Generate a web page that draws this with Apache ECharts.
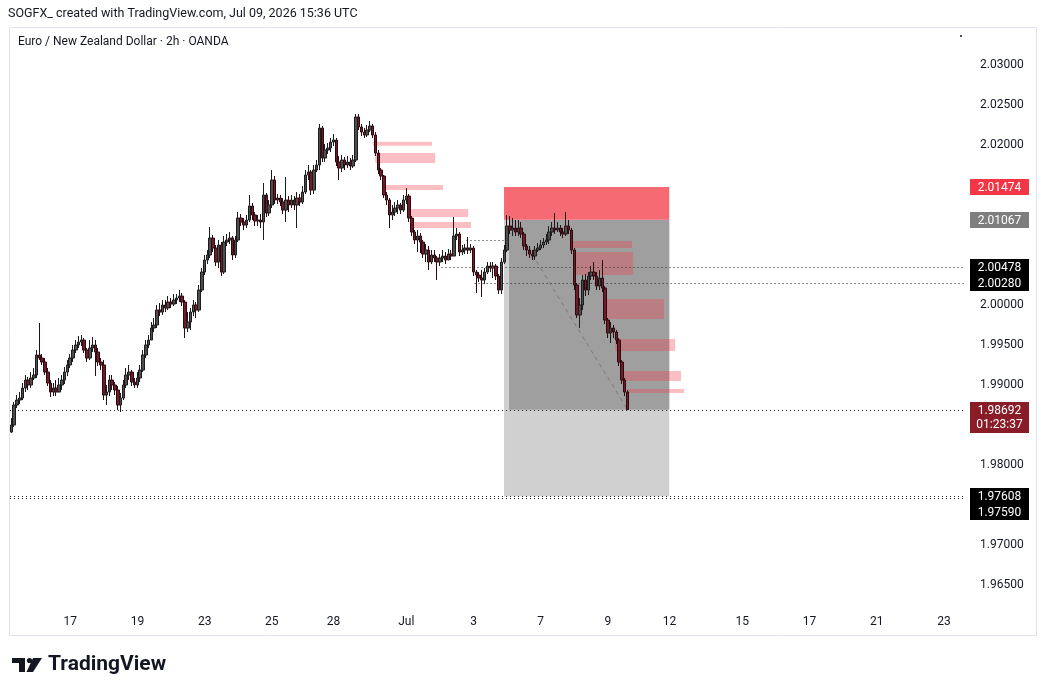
<!DOCTYPE html>
<html>
<head>
<meta charset="utf-8">
<title>EURNZD 2h</title>
<script src="https://cdn.jsdelivr.net/npm/echarts@6/dist/echarts.min.js"></script>
<style>
  html, body { margin: 0; padding: 0; background: #ffffff; }
  #chart { width: 1047px; height: 696px; }
</style>
</head>
<body>
<div id="chart"></div>
<script>
// ---- data ----
var firstOpen = 1.98412;

var closes = [
  1.98500,1.98750,1.98812,1.98837,1.98962,1.99062,1.99000,1.99087,1.99125,1.99375,
  1.99337,1.99287,1.99162,1.99025,1.98912,1.98962,1.98912,1.99000,1.99062,1.99162,
  1.99250,1.99337,1.99437,1.99500,1.99537,1.99562,1.99437,1.99337,1.99462,1.99500,
  1.99412,1.99287,1.99250,1.98875,1.98912,1.99062,1.99000,1.98937,1.98750,1.98837,
  1.99000,1.99125,1.99162,1.99037,1.99000,1.99087,1.99187,1.99375,1.99500,1.99562,
  1.99712,1.99750,1.99937,1.99912,2.00000,1.99962,2.00037,2.00012,2.00062,2.00087,
  2.00112,2.00037,1.99712,1.99787,1.99912,2.00000,1.99937,2.00187,2.00412,2.00562,
  2.00625,2.00837,2.00712,2.00537,2.00750,2.00412,2.00787,2.00812,2.00837,2.00625,
  2.00812,2.01087,2.01037,2.01000,2.01062,2.01237,2.01125,2.01050,2.01062,2.01037,
  2.01375,2.01150,2.01250,2.01562,2.01312,2.01337,2.01287,2.01187,2.01312,2.01250,
  2.01312,2.01250,2.01337,2.01287,2.01412,2.01625,2.01662,2.01437,2.01687,2.01750,
  2.02212,2.01837,2.01937,2.01962,2.02037,2.02062,2.01787,2.01712,2.01812,2.01750,
  2.01787,2.01737,2.01812,2.02350,2.02225,2.02162,2.02125,2.02187,2.02237,2.02125,
  2.01900,2.01687,2.01612,2.01375,2.01312,2.01125,2.01162,2.01212,2.01250,2.01187,
  2.01312,2.01362,2.01087,2.00912,2.00812,2.00862,2.00787,2.00637,2.00687,2.00537,
  2.00625,2.00587,2.00537,2.00587,2.00612,2.00562,2.00637,2.00612,2.00862,2.00887,
  2.00662,2.00687,2.00712,2.00687,2.00712,2.00412,2.00375,2.00337,2.00312,2.00412,
  2.00487,2.00462,2.00487,2.00362,2.00187,2.00537,2.00687,2.00987,2.00937,2.00962,
  2.00912,2.00962,2.00887,2.00737,2.00687,2.00637,2.00612,2.00687,2.00712,2.00750,
  2.00787,2.00812,2.00912,2.00962,2.00937,2.00962,2.00912,2.00887,2.00987,2.00937,
  2.00687,2.00250,1.99875,2.00000,2.00312,2.00187,2.00362,2.00412,2.00362,2.00237,
  2.00337,2.00212,1.99812,1.99650,1.99712,1.99662,1.99562,1.99287,1.99062,1.98912,1.98692
];

var highs = [
  1.98587,1.98787,1.98875,1.98912,1.99025,1.99125,1.99100,1.99162,1.99212,1.99437,
  1.99775,1.99387,1.99337,1.99212,1.99062,1.99025,1.99062,1.99087,1.99125,1.99225,
  1.99312,1.99387,1.99500,1.99562,1.99612,1.99625,1.99587,1.99462,1.99562,1.99600,
  1.99562,1.99462,1.99337,1.99312,1.99000,1.99125,1.99125,1.99037,1.98987,1.98900,
  1.99062,1.99212,1.99250,1.99187,1.99087,1.99162,1.99250,1.99437,1.99562,1.99625,
  1.99787,1.99837,2.00000,2.00025,2.00062,2.00062,2.00112,2.00087,2.00137,2.00137,
  2.00187,2.00150,2.00062,1.99912,1.99962,2.00062,2.00037,2.00250,2.00462,2.00625,
  2.00687,2.00975,2.00875,2.00750,2.00812,2.00787,2.00862,2.00887,2.00912,2.00862,
  2.00862,2.01162,2.01137,2.01087,2.01125,2.01375,2.01275,2.01162,2.01125,2.01137,
  2.01525,2.01400,2.01312,2.01687,2.01612,2.01387,2.01375,2.01337,2.01600,2.01362,
  2.01375,2.01362,2.01412,2.01387,2.01487,2.01687,2.01750,2.01687,2.01750,2.01812,
  2.02262,2.02237,2.02012,2.02025,2.02087,2.02137,2.02087,2.01862,2.01875,2.01850,
  2.01862,2.01837,2.01875,2.02387,2.02387,2.02262,2.02212,2.02250,2.02300,2.02262,
  2.02162,2.01937,2.01712,2.01625,2.01412,2.01337,2.01250,2.01287,2.01312,2.01275,
  2.01375,2.01462,2.01387,2.01112,2.00937,2.00937,2.00900,2.00812,2.00762,2.00737,
  2.00687,2.00687,2.00612,2.00637,2.00687,2.00662,2.00700,2.00687,2.01100,2.00962,
  2.00912,2.00750,2.00762,2.00850,2.00762,2.00737,2.00437,2.00412,2.00437,2.00462,
  2.00537,2.00537,2.00537,2.00512,2.00387,2.00587,2.00750,2.01125,2.01112,2.01087,
  2.01062,2.01062,2.01037,2.00912,2.00762,2.00737,2.00687,2.00737,2.00775,2.00812,
  2.00837,2.00887,2.00987,2.01037,2.01150,2.01037,2.01000,2.00962,2.01162,2.01062,
  2.00962,2.00712,2.00275,2.00087,2.00375,2.00387,2.00412,2.00487,2.00537,2.00412,
  2.00437,2.00562,2.00237,1.99837,1.99787,1.99750,1.99687,1.99587,1.99312,1.99087,1.98937
];

var lows = [
  1.98400,1.98475,1.98712,1.98762,1.98812,1.98912,1.98937,1.98962,1.99062,1.99087,
  1.99312,1.99250,1.99125,1.98987,1.98850,1.98862,1.98862,1.98912,1.98937,1.99012,
  1.99112,1.99212,1.99287,1.99400,1.99462,1.99487,1.99400,1.99287,1.99312,1.99412,
  1.99112,1.99237,1.99187,1.98812,1.98750,1.98862,1.98937,1.98875,1.98687,1.98662,
  1.98812,1.98962,1.99062,1.98987,1.98962,1.98962,1.99037,1.99162,1.99337,1.99462,
  1.99587,1.99662,1.99712,1.99862,1.99875,1.99912,1.99937,1.99962,1.99987,2.00012,
  2.00037,1.99987,1.99587,1.99662,1.99687,1.99862,1.99837,1.99912,2.00162,2.00375,
  2.00512,2.00587,2.00662,2.00487,2.00462,2.00362,2.00387,2.00737,2.00762,2.00562,
  2.00587,2.00787,2.00987,2.00937,2.00962,2.01037,2.01062,2.00987,2.00987,2.00962,
  2.00812,2.01100,2.01112,2.01212,2.01262,2.01262,2.01237,2.01137,2.01037,2.01162,
  2.01212,2.01187,2.00962,2.01237,2.01262,2.01387,2.01562,2.01375,2.01387,2.01662,
  2.01687,2.01787,2.01787,2.01887,2.01912,2.01987,2.01737,2.01562,2.01662,2.01687,
  2.01712,2.01687,2.01712,2.01787,2.02187,2.02112,2.02087,2.02100,2.02162,2.02087,
  2.01862,2.01637,2.01562,2.01337,2.01250,2.00962,2.01062,2.01112,2.01137,2.01137,
  2.01162,2.01262,2.01037,2.00862,2.00762,2.00662,2.00650,2.00587,2.00537,2.00437,
  2.00512,2.00537,2.00312,2.00487,2.00537,2.00512,2.00562,2.00562,2.00612,2.00812,
  2.00612,2.00625,2.00637,2.00637,2.00650,2.00362,2.00150,2.00287,2.00100,2.00262,
  2.00387,2.00412,2.00337,2.00312,2.00137,2.00137,2.00512,2.00662,2.00887,2.00862,
  2.00862,2.00862,2.00837,2.00687,2.00612,2.00587,2.00562,2.00562,2.00662,2.00687,
  2.00712,2.00750,2.00762,2.00862,2.00887,2.00912,2.00862,2.00837,2.00862,2.00887,
  2.00637,2.00187,1.99837,1.99712,1.99937,2.00112,2.00125,2.00312,2.00312,2.00187,
  2.00187,2.00162,1.99762,1.99587,1.99525,1.99587,1.99512,1.99237,1.99012,1.98862,1.98687
];

// time axis: candle slot of each date label
var dateLabels = ['17', '19', '23', '25', '28', 'Jul', '3', '7', '9', '12', '15', '17', '21', '23'];
var dateSlots  = [21, 45, 69, 93, 115, 141, 165, 189, 213, 235, 261, 285, 309, 333];

var priceTicks = [1.965, 1.970, 1.975, 1.980, 1.985, 1.990, 1.995, 2.000, 2.005, 2.010, 2.015, 2.020, 2.025, 2.030];

// short position tool
var posStart = 175.9, posProfitStart = 177.7, posEnd = 234.9;
var stopPrice = 2.01474, entryPrice = 2.01067, targetPrice = 1.97608, lastPrice = 1.98692;
var countdown = '01:23:37';

// supply zones (slot from, slot to, top, bottom)
var zoneFrom   = [129.1, 129.9, 133.4, 141.6, 142.4, 200.2, 200.6, 212.0, 215.6, 218.0, 220.2];
var zoneTo     = [150.2, 151.3, 154.1, 163.1, 164.1, 221.6, 222.0, 233.0, 237.0, 239.1, 240.2];
var zoneTop    = [2.02040, 2.01900, 2.01500, 2.01200, 2.01037, 2.00800, 2.00662, 2.00075, 1.99575, 1.99175, 1.98950];
var zoneBottom = [2.01990, 2.01775, 2.01437, 2.01100, 2.00962, 2.00712, 2.00375, 1.99825, 1.99425, 1.99050, 1.98900];

// dotted levels
var levelPrice = [2.00812, 2.00478, 2.00280, 1.98692, 1.97608, 1.97590];
var levelFrom  = [162.5, 153.6, 165.4, -0.5, -0.5, -0.5];
var levelTo    = [175.7, 340.5, 340.5, 340.5, 340.5, 340.5];

// dashed path line inside the position
var pathSlots  = [186.0, 220.0];
var pathPrices = [2.00630, 1.98692];

var X_MIN = -0.5, X_MAX = 340.5;

// ---- build series data ----
var candles = [];
for (var i = 0; i < closes.length; i++) {
  var o = i === 0 ? firstOpen : closes[i - 1];
  var c = closes[i];
  var h = Math.max(highs[i], o, c);
  var l = Math.min(lows[i], o, c);
  candles.push([i, o, c, l, h]);
}

var zones = [];
for (var k = 0; k < zoneFrom.length; k++) {
  zones.push([zoneFrom[k], zoneTo[k], zoneTop[k], zoneBottom[k]]);
}
var levels = [];
for (var m = 0; m < levelPrice.length; m++) {
  levels.push([levelFrom[m], levelTo[m], levelPrice[m]]);
}

function rectRenderer(fill) {
  return function (params, api) {
    var p0 = api.coord([api.value(0), api.value(2)]);
    var p1 = api.coord([api.value(1), api.value(3)]);
    return {
      type: 'rect',
      shape: {
        x: Math.min(p0[0], p1[0]), y: Math.min(p0[1], p1[1]),
        width: Math.abs(p1[0] - p0[0]), height: Math.abs(p1[1] - p0[1])
      },
      style: { fill: fill }
    };
  };
}

var chart = echarts.init(document.getElementById('chart'));

var option = {
  animation: false,
  backgroundColor: '#ffffff',
  textStyle: { fontFamily: 'Roboto, "DejaVu Sans", sans-serif' },
  grid: { left: 10, right: 82, top: 28, bottom: 91 },
  xAxis: {
    type: 'value',
    min: X_MIN,
    max: X_MAX,
    axisLine: { show: false },
    axisTick: { show: false },
    splitLine: { show: false },
    axisLabel: {
      customValues: dateSlots,
      formatter: function (v) {
        var idx = dateSlots.indexOf(Math.round(v));
        return idx >= 0 ? dateLabels[idx] : '';
      },
      color: '#131722',
      fontSize: 12,
      margin: 11
    }
  },
  yAxis: {
    type: 'value',
    position: 'right',
    min: 1.9625,
    max: 2.034625,
    axisLine: { show: false },
    axisTick: { show: false },
    splitLine: { show: false },
    axisLabel: {
      customValues: priceTicks,
      formatter: function (v) { return v.toFixed(5); },
      color: '#131722',
      fontSize: 12,
      margin: 15
    }
  },
  series: [
    {
      name: 'target',
      type: 'custom',
      renderItem: rectRenderer('#d0d0d0'),
      encode: { x: [0, 1], y: [2, 3] },
      data: [[posStart, posEnd, entryPrice, targetPrice]],
      z: 1, silent: true
    },
    {
      name: 'profit',
      type: 'custom',
      renderItem: rectRenderer('#9f9f9f'),
      encode: { x: [0, 1], y: [2, 3] },
      data: [[posProfitStart, posEnd, entryPrice, lastPrice]],
      z: 2, silent: true
    },
    {
      name: 'stop',
      type: 'custom',
      renderItem: rectRenderer('#f66a74'),
      encode: { x: [0, 1], y: [2, 3] },
      data: [[posStart, posEnd, stopPrice, entryPrice]],
      z: 3, silent: true
    },
    {
      name: 'zones',
      type: 'custom',
      renderItem: rectRenderer('rgba(242,54,69,0.32)'),
      encode: { x: [0, 1], y: [2, 3] },
      data: zones,
      z: 4, silent: true
    },
    {
      name: 'levels',
      type: 'custom',
      renderItem: function (params, api) {
        var a = api.coord([api.value(0), api.value(2)]);
        var b = api.coord([api.value(1), api.value(2)]);
        var y = Math.round(a[1]) + 0.5;
        return {
          type: 'line',
          shape: { x1: a[0], y1: y, x2: b[0], y2: y },
          style: { stroke: '#1e222d', lineWidth: 1, lineDash: [1, 3] }
        };
      },
      encode: { x: [0, 1], y: 2 },
      data: levels,
      z: 5, silent: true
    },
    {
      name: 'path',
      type: 'line',
      data: [[pathSlots[0], pathPrices[0]], [pathSlots[1], pathPrices[1]]],
      symbol: 'none',
      lineStyle: { color: '#7a7a7a', width: 1, type: [4, 4] },
      z: 5, silent: true
    },
    {
      name: 'EURNZD',
      type: 'candlestick',
      data: candles,
      encode: { x: 0, y: [1, 2, 3, 4] },
      barWidth: 3,
      barMinWidth: 3,
      itemStyle: {
        color: '#4d4d4d',
        color0: '#6e1c2a',
        borderColor: '#1c1c1c',
        borderColor0: '#2e0a10',
        borderWidth: 1
      },
      z: 6
    }
  ]
};

chart.setOption(option);

// ---- price-axis tags and page text, placed through the axis scale ----
function priceY(p) { return chart.convertToPixel({ yAxisIndex: 0 }, p); }

var TOP = 200;

function tag(text, fill, y, height) {
  var h = height || 16;
  var top = Math.round(y) - 8;
  return [
    { type: 'rect', z: TOP, shape: { x: 970, y: top, width: 59, height: h }, style: { fill: fill } },
    { type: 'text', z: TOP + 1, style: { x: 999.5, y: Math.round(y) + 0.5, text: text, fill: '#ffffff', font: '12px Roboto, sans-serif', align: 'center', verticalAlign: 'middle' } }
  ];
}

var yTarget = priceY(targetPrice);
var yLast = priceY(lastPrice);

var graphics = [
  { type: 'rect', shape: { x: 9.5, y: 27.5, width: 1027, height: 608 }, style: { fill: 'none', stroke: '#e0e3eb', lineWidth: 1 }, z: 0, silent: true },
  { type: 'text', z: TOP, style: { x: 8, y: 14, text: 'SOGFX_ created with TradingView.com, Jul 09, 2026 15:36 UTC', fill: '#131722', font: '12.5px Roboto, sans-serif', verticalAlign: 'middle' } },
  { type: 'text', z: TOP, style: { x: 18, y: 42, text: 'Euro / New Zealand Dollar \u00b7 2h \u00b7 OANDA', fill: '#131722', font: '12px Roboto, sans-serif', verticalAlign: 'middle' } },
  { type: 'circle', z: TOP, shape: { cx: 961, cy: 36, r: 1 }, style: { fill: '#131722' } }
];
graphics = graphics
  .concat(tag(stopPrice.toFixed(5), '#f23645', priceY(stopPrice)))
  .concat(tag(entryPrice.toFixed(5), '#7e7e7e', priceY(entryPrice)))
  .concat(tag('2.00478', '#000000', priceY(2.00478)))
  .concat(tag('2.00280', '#000000', priceY(2.00280)))
  .concat(tag(lastPrice.toFixed(5), '#8a1c28', yLast, 31))
  .concat([{ type: 'text', z: TOP + 1, style: { x: 999.5, y: Math.round(yLast) + 15, text: countdown, fill: '#ffffff', font: '12px Roboto, sans-serif', align: 'center', verticalAlign: 'middle' } }])
  .concat(tag(targetPrice.toFixed(5), '#000000', yTarget))
  .concat(tag('1.97590', '#000000', yTarget + 16));

// TradingView logo
graphics = graphics.concat([
  { type: 'rect', z: TOP, shape: { x: 12, y: 658, width: 13, height: 5 }, style: { fill: '#131722' } },
  { type: 'rect', z: TOP, shape: { x: 19, y: 658, width: 6, height: 14 }, style: { fill: '#131722' } },
  { type: 'circle', z: TOP, shape: { cx: 29.5, cy: 660.5, r: 2.6 }, style: { fill: '#131722' } },
  { type: 'polygon', z: TOP, shape: { points: [[33, 658], [42, 658], [33, 672], [26.5, 672]] }, style: { fill: '#131722' } },
  { type: 'text', z: TOP, style: { x: 48, y: 665, text: 'TradingView', fill: '#131722', font: 'bold 21px Roboto, sans-serif', verticalAlign: 'middle' } }
]);

chart.setOption({ graphic: graphics });
</script>
</body>
</html>
